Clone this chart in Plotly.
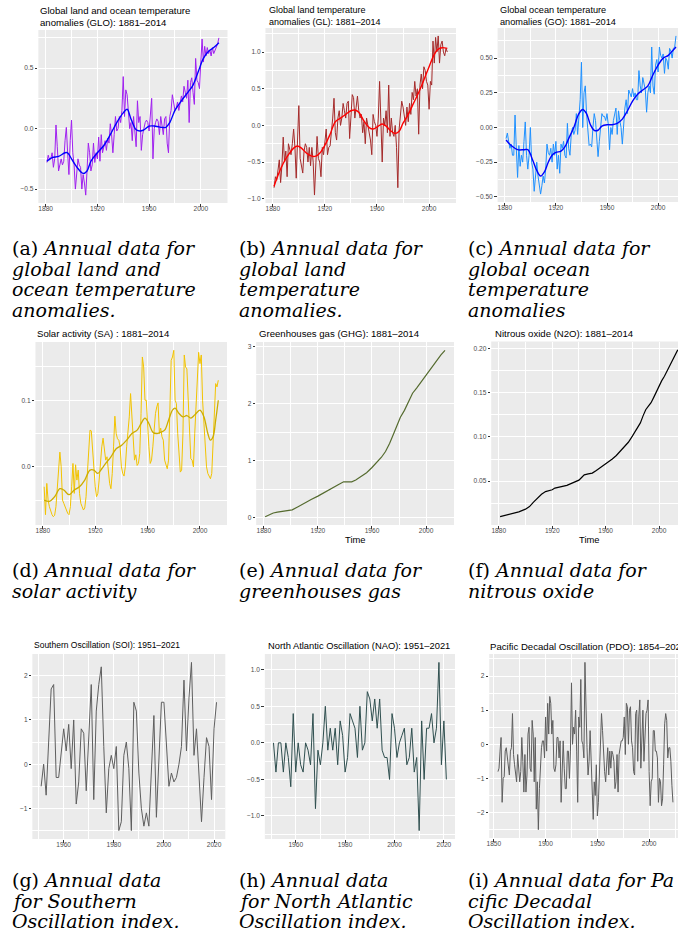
import plotly.graph_objects as go

W, H = 678, 940
FONT = "Liberation Sans"
SERIF = "DejaVu Serif"

# ---------------- data ----------------
glo_start = 1881
glo = [-0.28, -0.22, -0.26, -0.25, -0.2, -0.32, -0.25, 0.03, -0.15, -0.35,
       -0.3, -0.25, -0.3, -0.27, -0.1, 0.01, -0.2, -0.38, -0.1, 0.07,
       -0.2, -0.3, -0.5, -0.35, -0.25, -0.3, -0.32, -0.5, -0.38, -0.45,
       -0.55, -0.35, -0.12, -0.2, -0.35, -0.3, -0.12, -0.28, -0.2, -0.25,
       -0.07, -0.27, -0.05, -0.2, -0.15, -0.1, -0.18, -0.08, -0.12, 0.04,
       -0.05, -0.2, -0.05, 0.1, -0.02, 0.0, 0.1, 0.05, 0.15, 0.43,
       0.1, 0.32, 0.28, 0.1, 0.0, 0.05, -0.1, 0.1, -0.05, -0.15,
       0.23, 0.05, 0.1, -0.18, -0.05, 0.02, 0.05, 0.07, 0.05, -0.02,
       0.1, 0.25, -0.25, 0.0, 0.05, 0.08, 0.06, -0.05, 0.1, 0.02,
       -0.05, 0.08, 0.1, -0.12, -0.2, 0.1, 0.15, 0.28, 0.2, 0.15,
       0.17, 0.22, 0.15, 0.2, 0.27, 0.22, 0.35, 0.3, 0.25, 0.4,
       0.05, 0.38, 0.42, 0.3, 0.2, 0.58, 0.4, 0.38, 0.33, 0.55,
       0.74, 0.55, 0.68, 0.6, 0.67, 0.62, 0.65, 0.6, 0.67, 0.62,
       0.65, 0.68, 0.7, 0.75]
glo_smooth_years = [1881, 1885, 1890, 1895, 1897, 1900, 1905, 1909, 1912, 1915, 1920,
                    1925, 1930, 1935, 1940, 1943, 1946, 1950, 1953, 1956, 1960, 1965,
                    1970, 1973, 1976, 1980, 1985, 1990, 1994, 1998, 2002, 2006, 2010, 2014]
glo_smooth = [-0.27, -0.24, -0.23, -0.2, -0.2, -0.25, -0.33, -0.37, -0.35, -0.27, -0.2,
              -0.14, -0.05, 0.05, 0.13, 0.16, 0.08, -0.01, -0.02, -0.01, 0.02, 0.02,
              0.01, 0.01, 0.05, 0.15, 0.23, 0.3, 0.36, 0.47, 0.58, 0.64, 0.67, 0.71]

gl_start = 1881
gl = [-0.85, -0.7, -0.75, -0.6, -0.47, -0.78, -0.55, -0.16, -0.5, -0.35,
      -0.7, -0.25, -0.35, -0.4, -0.25, -0.05, -0.3, -0.72, -0.2, 0.27,
      -0.45, -0.55, -0.65, -0.35, -0.25, -0.3, -0.5, -0.3, -0.55, -0.3,
      -0.5, -0.95, -0.4, -0.15, -0.45, -0.5, -0.7, -0.3, -0.4, -0.25,
      -0.05, -0.4, -0.3, -0.28, -0.1, 0.1, 0.37, -0.1, -0.2, 0.1,
      0.2, 0.0, 0.1, 0.3, 0.2, 0.1, 0.3, 0.33, -0.18, 0.2,
      0.42, 0.38, 0.1, 0.25, 0.4, 0.2, 0.1, 0.15, -0.1, 0.05,
      -0.25, 0.1, 0.0, -0.1, -0.2, -0.4, 0.15, 0.05, 0.0, -0.15,
      0.1, 0.6, -0.1, -0.5, 0.1, 0.0, 0.2, -0.1, 0.55, -0.15,
      0.1, -0.1, -0.15, 0.0, -0.3, -0.85, -0.05, 0.15, 0.33, 0.25,
      0.1, 0.0, 0.25, 0.05, 0.3, 0.15, 0.45, 0.35, 0.6, 0.4,
      0.5, -0.12, 0.55, 0.7, 0.5, 0.8, 0.75, 0.6, 0.55, 0.22,
      0.6, 0.55, 1.15, 0.85, 1.2, 1.0, 1.22, 0.85, 1.1, 1.15,
      1.0, 0.95, 1.05, 1.0]
gl_smooth_years = [1881, 1884, 1888, 1892, 1896, 1899, 1902, 1906, 1910, 1913, 1916,
                   1920, 1924, 1928, 1932, 1936, 1940, 1943, 1946, 1950, 1954, 1957,
                   1961, 1964, 1967, 1971, 1974, 1977, 1980, 1984, 1988, 1992, 1996,
                   2000, 2004, 2007, 2010, 2014]
gl_smooth = [-0.83, -0.68, -0.52, -0.4, -0.31, -0.28, -0.31, -0.38, -0.42, -0.42, -0.38,
             -0.27, -0.12, 0.05, 0.1, 0.15, 0.2, 0.21, 0.18, 0.06, -0.03, -0.05,
             -0.01, 0.02, -0.01, -0.08, -0.11, -0.08, 0.03, 0.15, 0.3, 0.45, 0.62,
             0.8, 0.97, 1.04, 1.06, 1.05]

go_start = 1881
goc = [-0.08, -0.04, -0.1, -0.15, -0.12, -0.2, -0.2, 0.09, -0.15, -0.36,
       -0.13, -0.28, -0.2, -0.25, -0.1, 0.04, -0.2, -0.3, -0.2, 0.0,
       -0.25, -0.3, -0.46, -0.33, -0.25, -0.35, -0.4, -0.48, -0.42, -0.35,
       -0.4, -0.3, -0.12, -0.18, -0.2, -0.15, -0.25, -0.12, -0.2, -0.1,
       -0.3, -0.2, -0.33, -0.12, -0.15, -0.1, -0.2, -0.22, 0.03, -0.15,
       -0.2, -0.05, 0.0, -0.05, -0.02, 0.1, -0.05, 0.08, 0.2, 0.47,
       0.0, 0.25, 0.3, 0.1, 0.0, -0.13, -0.12, -0.14, 0.0, 0.1,
       0.05, -0.1, -0.21, -0.1, 0.0, 0.1, 0.08, 0.08, 0.05, 0.1,
       0.02, -0.16, 0.0, -0.05, 0.05, 0.1, 0.14, -0.05, 0.12, 0.05,
       0.0, -0.12, 0.05, 0.14, 0.2, 0.1, 0.27, 0.25, 0.22, 0.28,
       0.22, 0.25, 0.2, 0.2, 0.41, 0.3, 0.25, 0.36, 0.3, 0.27,
       0.11, 0.25, 0.3, 0.25, 0.58, 0.3, 0.24, 0.45, 0.49, 0.4,
       0.58, 0.52, 0.5, 0.53, 0.39, 0.5, 0.48, 0.42, 0.57, 0.55,
       0.5, 0.57, 0.58, 0.66]
go_smooth_years = [1881, 1885, 1890, 1895, 1898, 1902, 1905, 1908, 1911, 1914, 1917,
                   1920, 1924, 1927, 1930, 1934, 1938, 1941, 1944, 1947, 1950, 1953,
                   1956, 1960, 1964, 1968, 1972, 1976, 1980, 1984, 1988, 1992, 1996,
                   2000, 2004, 2008, 2011, 2014]
go_smooth = [-0.09, -0.13, -0.16, -0.16, -0.16, -0.24, -0.31, -0.35, -0.32, -0.25, -0.2,
             -0.18, -0.17, -0.14, -0.08, 0.0, 0.1, 0.13, 0.1, 0.02, -0.02, -0.02,
             0.01, 0.02, 0.02, 0.03, 0.06, 0.12, 0.19, 0.24, 0.27, 0.3, 0.38,
             0.45, 0.5, 0.52, 0.55, 0.58]

sa_start = 1881
sa = [-0.03, -0.072, -0.025, -0.05, -0.06, -0.068, -0.072, -0.075, -0.073, -0.06,
      -0.03, -0.01, 0.022, 0.0, -0.05, -0.055, -0.06, -0.068, -0.07, -0.072,
      -0.06, -0.03, 0.005, -0.04, 0.003, -0.02, -0.005, -0.04, -0.055, -0.06,
      -0.065, -0.062, -0.045, -0.01, 0.03, 0.055, 0.054, 0.02, -0.01, -0.03,
      -0.045, -0.04, -0.02, 0.01, 0.03, 0.043, 0.02, 0.01, 0.015, -0.01,
      -0.025, -0.033, -0.01, 0.03, 0.076, 0.05, 0.042, 0.04, 0.03, 0.0,
      -0.01, -0.014, 0.0, 0.03, 0.05, 0.075, 0.11, 0.07, 0.04, 0.01,
      0.018, 0.002, 0.005, 0.02, 0.08, 0.165, 0.15, 0.1, 0.1, 0.06,
      0.03, 0.005, 0.01, 0.03, 0.06, 0.08, 0.09, 0.096, 0.05, 0.058,
      0.045, 0.04, 0.01, 0.002, -0.003, 0.01, 0.08, 0.16, 0.165, 0.175,
      0.1, 0.095, 0.05, 0.01, -0.008, -0.005, 0.05, 0.168, 0.15, 0.147,
      0.1, 0.04, 0.012, 0.01, 0.0, 0.05, 0.1, 0.15, 0.172, 0.155,
      0.168, 0.1, 0.06, 0.02, 0.0, -0.01, -0.015, -0.018, -0.01, 0.04,
      0.09, 0.125, 0.12, 0.13]
sa_smooth_years = [1881, 1885, 1889, 1893, 1896, 1900, 1904, 1908, 1912, 1916, 1919,
                   1922, 1925, 1928, 1932, 1936, 1940, 1944, 1948, 1952, 1955, 1958,
                   1961, 1964, 1967, 1970, 1973, 1976, 1979, 1981, 1984, 1987, 1990,
                   1993, 1996, 2000, 2003, 2006, 2008, 2010, 2012, 2014]
sa_smooth = [-0.05, -0.052, -0.045, -0.033, -0.035, -0.042, -0.035, -0.03, -0.02, -0.005, -0.005,
             -0.01, -0.003, 0.005, 0.015, 0.027, 0.032, 0.04, 0.05, 0.055, 0.065, 0.073,
             0.065, 0.052, 0.05, 0.052, 0.055, 0.07, 0.085, 0.088, 0.08, 0.075, 0.077,
             0.073, 0.078, 0.085, 0.075, 0.05, 0.04, 0.045, 0.07, 0.1]

ghg_years = [1881, 1884, 1887, 1890, 1894, 1898, 1901, 1905, 1910, 1915, 1920, 1925,
             1930, 1935, 1939, 1942, 1945, 1948, 1952, 1956, 1960, 1964, 1967, 1970,
             1973, 1976, 1979, 1981, 1984, 1987, 1990, 1993, 1996, 1999, 2002, 2005,
             2008, 2011, 2014]
ghg = [0.02, 0.06, 0.085, 0.1, 0.11, 0.12, 0.14, 0.19, 0.26, 0.32, 0.38, 0.45,
       0.52, 0.58, 0.63, 0.63, 0.63, 0.66, 0.72, 0.79, 0.88, 0.98, 1.06, 1.16,
       1.3, 1.47, 1.66, 1.76, 1.88, 2.02, 2.18, 2.27, 2.37, 2.46, 2.56, 2.66,
       2.75, 2.85, 2.93]

n2o_years = [1881, 1885, 1890, 1895, 1900, 1903, 1906, 1909, 1912, 1915, 1918, 1920,
             1922, 1925, 1928, 1931, 1934, 1937, 1940, 1942, 1944, 1947, 1950, 1953,
             1956, 1959, 1962, 1965, 1968, 1971, 1974, 1977, 1980, 1983, 1986, 1988,
             1990, 1992, 1994, 1996, 1998, 2000, 2002, 2004, 2006, 2008, 2010, 2012, 2014]
n2o = [0.0095, 0.011, 0.013, 0.015, 0.018, 0.021, 0.026, 0.031, 0.035, 0.038, 0.0395, 0.04,
       0.042, 0.043, 0.044, 0.045, 0.047, 0.049, 0.051, 0.054, 0.057, 0.058, 0.059, 0.062,
       0.065, 0.068, 0.071, 0.075, 0.079, 0.084, 0.089, 0.094, 0.101, 0.108, 0.116, 0.124,
       0.131, 0.135, 0.139, 0.145, 0.152, 0.158, 0.164, 0.169, 0.175, 0.181, 0.187, 0.193, 0.199]

soi_start = 1951
soi = [-0.5, 0.0, -0.7, 0.5, 1.7, 1.8, -0.3, -0.3, 0.2, 0.8,
       0.3, 0.9, -0.1, 1.0, -0.9, -0.4, 0.8, 0.7, -0.6, 0.5,
       1.8, -0.8, 1.2, 1.8, 2.2, 0.4, -1.1, -0.1, 0.2, -0.1,
       0.4, -1.5, -1.3, 0.2, 0.5, -0.1, -1.5, 1.4, 1.2, -0.2,
       -1.0, -1.4, -1.1, -1.4, -0.3, 1.1, -1.2, 0.3, 1.4, 1.4,
       0.5, -0.5, -0.2, -0.4, -0.3, 0.0, 0.4, 1.9, 0.3, 1.5,
       2.3, 0.2, 0.8, -0.2, -1.3, -0.3, 0.6, 0.4, -0.8, 0.8, 1.4]

nao_start = 1951
nao = [0.0, -0.4, 0.0, 0.0, -0.4, 0.0, -0.2, -0.6, 0.4, -0.4,
       0.0, -0.3, -0.4, 0.0, -0.1, -0.3, 0.4, -0.9, -0.1, -0.3,
       0.0, 0.5, -0.1, 0.2, -0.1, 0.2, -0.3, 0.3, 0.1, -0.4,
       -0.2, 0.4, 0.3, 0.2, -0.2, 0.5, -0.1, 0.0, 0.7, 0.6,
       0.3, 0.6, 0.2, 0.6, -0.1, -0.2, -0.2, -0.5, 0.4, 0.2,
       -0.2, 0.0, 0.1, 0.2, -0.3, -0.2, 0.2, -0.4, -0.2, -1.2,
       0.3, -0.5, 0.2, 0.2, 0.4, 0.0, 0.2, 1.1, -0.3, 0.3, -0.5]

pdo_start = 1854
pdo = [-0.8, -0.7, -0.2, 0.2, -1.7, -1.0, -0.95, -0.2, -0.1, -0.4,
       -0.5, -0.9, -0.2, -0.1, 0.9, -0.3, -0.6, -0.8, -1.1, -0.3,
       -0.7, -1.1, -0.8, 0.2, -0.5, -1.4, -0.3, -1.4, -0.9, 0.3,
       0.5, -0.7, -0.8, 0.7, 0.3, -1.1, 0.2, -1.9, -1.1, -2.5,
       -1.3, -0.5, -0.1, 0.1, 0.1, -0.4, 0.8, -0.2, 1.2, 0.3,
       1.4, 1.2, 0.3, 0.7, -0.7, -0.8, -0.6, 0.2, 0.2, -0.4,
       0.1, -1.7, -0.8, 0.1, -0.7, -1.3, -1.3, -0.2, -0.2, -1.0,
       -0.2, 1.8, 0.0, 0.5, 0.3, 1.0, -0.2, -1.7, 0.8, 0.5,
       1.9, 0.1, 0.0, -0.4, 2.4, 0.8, -0.1, -0.9, -0.5, 0.4,
       -0.6, -1.6, -2.2, -1.1, -1.5, -0.6, -2.1, -1.7, -0.6, 0.5,
       0.9, 0.4, -0.3, -0.8, -1.1, -0.5, -0.1, -0.9, -0.2, -0.7,
       -0.2, -0.3, -0.5, -1.3, -1.1, -0.3, -1.4, -0.3, 0.0, 0.1,
       0.1, 0.2, 0.8, -0.3, 1.2, 1.1, 0.0, 1.0, 1.1, 0.1,
       -0.1, -0.8, -0.9, 0.9, 1.0, -0.5, 0.8, 1.3, -0.7, 0.3,
       1.0, -0.5, 0.2, 0.9, 1.0, 1.3, -0.8, -1.8, -1.1, -1.0,
       0.4, 0.4, -0.2, -0.2, -0.4, -1.7, -1.0, -1.1, -1.8, -1.6,
       -0.6, 0.6, 0.9, 0.7, -0.4, -0.1, -0.1, -0.5, -1.2, -1.7]

titles = ["Global land and ocean temperature<br>anomalies (GLO): 1881\u20132014",
          "Global land temperature<br>anomalies (GL): 1881\u20132014",
          "Global ocean temperature<br>anomalies (GO): 1881\u20132014",
          "Solar activity (SA) : 1881\u20132014",
          "Greenhouses gas (GHG): 1881\u20132014",
          "Nitrous oxide (N2O): 1881\u20132014",
          "Southern Oscillation (SOI): 1951\u20132021",
          "North Atlantic Oscillation (NAO): 1951\u20132021",
          "Pacific Decadal Oscillation (PDO): 1854\u20132023"]
title_sizes = [9.6, 9.0, 9.2, 9.6, 9.6, 9.6, 8.5, 9.35, 9.6]

captions = [["(a) <i>Annual data for</i>", "<i>global land and</i>", "<i>ocean temperature</i>", "<i>anomalies.</i>"],
            ["(b) <i>Annual data for</i>", "<i>global land</i>", "<i>temperature</i>", "<i>anomalies.</i>"],
            ["(c) <i>Annual data for</i>", "<i>global ocean</i>", "<i>temperature</i>", "<i>anomalies</i>"],
            ["(d) <i>Annual data for</i>", "<i>solar activity</i>"],
            ["(e) <i>Annual data for</i>", "<i>greenhouses gas</i>"],
            ["(f) <i>Annual data for</i>", "<i>nitrous oxide</i>"],
            ["(g) <i>Annual data</i>", "<i>for Southern</i>", "<i>Oscillation index.</i>"],
            ["(h) <i>Annual data</i>", "<i>for North Atlantic</i>", "<i>Oscillation index.</i>"],
            ["(i) <i>Annual data for Pa</i>", "<i>cific Decadal</i>", "<i>Oscillation index.</i>"]]


def yrs(start, vals):
    return list(range(start, start + len(vals)))


def expand(lo, hi):
    d = (hi - lo) * 0.05
    return [lo - d, hi + d]


fig = go.Figure()
layout = {}
annotations = []

# panel geometry (pixels): left, right, top, bottom
boxes = [(35.5, 225.5, 30, 203), (263.6, 455, 28, 203), (496.8, 684.5, 28, 202),
         (32.6, 225, 342, 525), (254.3, 453, 342, 525), (490.4, 686.7, 341.5, 525),
         (29.5, 223.3, 654, 839), (263, 454, 654, 839), (488.4, 681.7, 654, 838)]

panels = [
    dict(raw=(yrs(glo_start, glo), glo, "#A020F0", 1.0),
         smooth=(glo_smooth_years, glo_smooth, "#0000FF", 1.4),
         xt=(1880, 40), yt=(-0.5, 0.5), yfmt=".1f"),
    dict(raw=(yrs(gl_start, gl), gl, "#A52A2A", 1.0),
         smooth=(gl_smooth_years, gl_smooth, "#FF0000", 1.4),
         xt=(1880, 40), yt=(-1.0, 0.5), yfmt=".1f"),
    dict(raw=(yrs(go_start, goc), goc, "#1E90FF", 1.0),
         smooth=(go_smooth_years, go_smooth, "#0000FF", 1.4),
         xt=(1880, 40), yt=(-0.5, 0.25), yfmt=".2f"),
    dict(raw=(yrs(sa_start, sa), sa, "#F2C300", 1.0),
         smooth=(sa_smooth_years, sa_smooth, "#CDAD00", 1.3),
         xt=(1880, 40), yt=(0.0, 0.1), yfmt=".1f"),
    dict(raw=(ghg_years, ghg, "#556B2F", 1.2), smooth=None,
         xt=(1880, 40), yt=(0, 1), yfmt="d"),
    dict(raw=(n2o_years, n2o, "#000000", 1.2), smooth=None,
         xt=(1880, 40), yt=(0.05, 0.05), yfmt=".2f"),
    dict(raw=(yrs(soi_start, soi), soi, "#5E5E5E", 1.0), smooth=None,
         xt=(1960, 20), yt=(0, 1), yfmt="d"),
    dict(raw=(yrs(nao_start, nao), nao, "#2F4F4F", 1.0), smooth=None,
         xt=(1960, 20), yt=(0.0, 0.5), yfmt=".1f"),
    dict(raw=(yrs(pdo_start, pdo), pdo, "#5E5E5E", 1.0), smooth=None,
         xt=(1850, 50), yt=(0, 1), yfmt="d"),
]

tickfont = dict(family=FONT, size=6.6, color="#4D4D4D")

for i, (p, box) in enumerate(zip(panels, boxes)):
    n = i + 1
    sx = "" if n == 1 else str(n)
    xs, ys, col, lw = p["raw"]
    xr = expand(min(xs), max(xs))
    yr = expand(min(ys), max(ys))
    left, right, top, bottom = box
    if right > W:
        xr[1] = xr[0] + (xr[1] - xr[0]) * (W - left) / (right - left)
        right = W
    x0t, xd = p["xt"]
    y0t, yd = p["yt"]
    layout["xaxis" + sx] = dict(
        domain=[left / W, right / W], range=xr, anchor="y" + sx,
        tickmode="linear", tick0=x0t, dtick=xd,
        showgrid=True, gridcolor="white", gridwidth=1.1,
        minor=dict(tick0=x0t, dtick=xd / 2, showgrid=True, gridcolor="white", gridwidth=0.55),
        zeroline=False, showline=False, ticks="outside", ticklen=2.5, tickwidth=0.8,
        tickcolor="#333333", tickfont=tickfont, fixedrange=True, ticklabelstandoff=-3)
    layout["yaxis" + sx] = dict(
        domain=[1 - bottom / H, 1 - top / H], range=yr, anchor="x" + sx,
        tickmode="linear", tick0=y0t, dtick=yd, tickformat=p["yfmt"],
        showgrid=True, gridcolor="white", gridwidth=1.1,
        minor=dict(tick0=y0t, dtick=yd / 2, showgrid=True, gridcolor="white", gridwidth=0.55),
        zeroline=False, showline=False, ticks="outside", ticklen=2.5, tickwidth=0.8,
        tickcolor="#333333", tickfont=tickfont, fixedrange=True, ticklabelstandoff=0)
    fig.add_trace(go.Scatter(x=xs, y=ys, mode="lines", line=dict(color=col, width=lw),
                             xaxis="x" + sx, yaxis="y" + sx, showlegend=False, hoverinfo="skip"))
    if p["smooth"] is not None:
        sxs, sys_, scol, slw = p["smooth"]
        fig.add_trace(go.Scatter(x=sxs, y=sys_, mode="lines",
                                 line=dict(color=scol, width=slw, shape="spline", smoothing=1.0),
                                 xaxis="x" + sx, yaxis="y" + sx, showlegend=False, hoverinfo="skip"))

# titles
title_pos = [(35.5, 3, "top"), (265, 3, "top"), (497, 3, "top"),
             (32, 333, "middle"), (255, 333, "middle"), (492, 333, "middle"),
             (29.5, 645, "middle"), (264, 646, "middle"), (487, 646, "middle")]
for t, (tx, ty, anc), ts in zip(titles, title_pos, title_sizes):
    annotations.append(dict(text=t, x=tx / W, y=1 - ty / H, xref="paper", yref="paper",
                            xanchor="left", yanchor=anc, align="left", showarrow=False,
                            font=dict(family=FONT, size=ts, color="#000000")))

# x-axis labels "Time"
for cx in (353.6, 588.5):
    annotations.append(dict(text="Time", x=cx / W, y=1 - 539.5 / H, xref="paper", yref="paper",
                            xanchor="center", yanchor="middle", showarrow=False,
                            font=dict(family=FONT, size=9.4, color="#000000")))

# captions, one annotation per line
cap_x = [7, 235, 465]
cap_line1 = [248, 570, 880]
cap_step = 20.6
for k, lines in enumerate(captions):
    for j, ln in enumerate(lines):
        cy = cap_line1[k // 3] + j * cap_step
        annotations.append(dict(text=ln, x=cap_x[k % 3] / W, y=1 - cy / H,
                                xref="paper", yref="paper", xanchor="left", yanchor="middle",
                                align="left", showarrow=False,
                                font=dict(family=SERIF, size=19, color="#000000")))

fig.update_layout(width=W, height=H, autosize=False,
                  margin=dict(l=0, r=0, t=0, b=0, pad=0),
                  paper_bgcolor="white", plot_bgcolor="#EBEBEB",
                  showlegend=False, annotations=annotations, **layout)

fig.write_html("out.html", config={"displayModeBar": False},
               post_script="document.body.style.margin='0';document.body.style.padding='0';"
                           "document.body.style.overflow='hidden';")
